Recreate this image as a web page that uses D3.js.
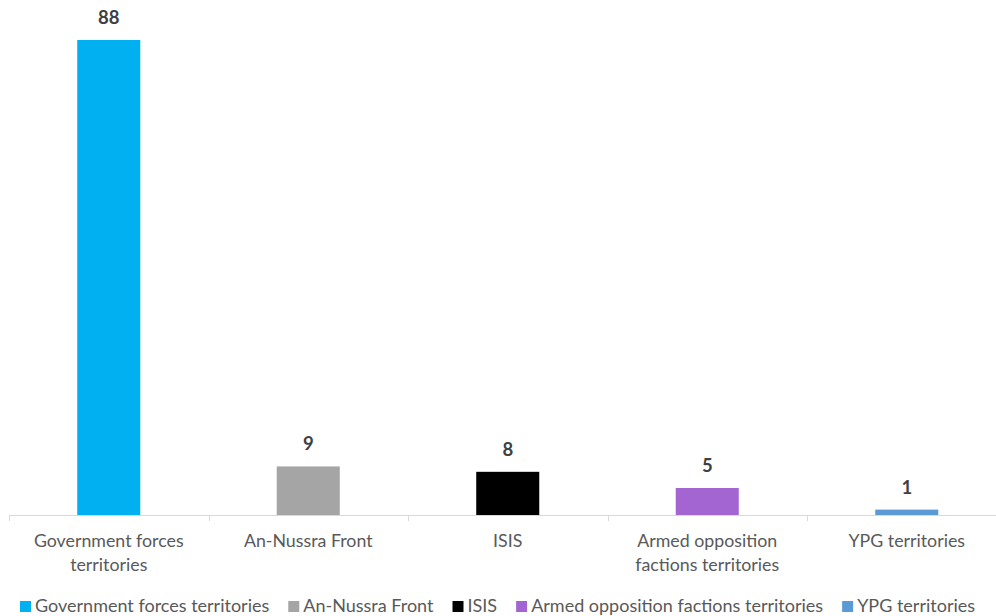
<!DOCTYPE html>
<html>
<head>
<meta charset="utf-8">
<script src="https://d3js.org/d3.v7.min.js"></script>
<style>
  body { margin: 0; background: #fff; }
  svg { display: block; font-family: Lato, "Open Sans", sans-serif; }
</style>
</head>
<body>
<div id="chart"></div>
<script>
// data
const categories = ['Government forces territories', 'An-Nussra Front', 'ISIS', 'Armed opposition factions territories', 'YPG territories'];
const axisLabels = [['Government forces', 'territories'], ['An-Nussra Front'], ['ISIS'], ['Armed opposition', 'factions territories'], ['YPG territories']];
const values = [88, 9, 8, 5, 1];
const colors = ['#00b0f0', '#a5a5a5', '#000000', '#a365d1', '#5b9bd5'];

const width = 996, height = 616;
const baseY = 515;

const svg = d3.select('#chart').append('svg')
    .attr('width', width)
    .attr('height', height);

// scales
const x = d3.scaleBand()
    .domain(categories)
    .range([9, 1006.5])
    .padding(0);

const y = d3.scaleLinear()
    .domain([0, 88])
    .range([baseY, 40]);

const barW = x.bandwidth() * 0.316;

// bars
svg.selectAll('.bar')
    .data(values)
    .enter().append('rect')
    .attr('class', 'bar')
    .attr('x', (d, i) => x(categories[i]) + x.bandwidth() / 2 - barW / 2)
    .attr('y', d => y(d))
    .attr('width', barW)
    .attr('height', d => baseY - y(d))
    .attr('fill', (d, i) => colors[i]);

// value labels
svg.selectAll('.value-label')
    .data(values)
    .enter().append('text')
    .attr('class', 'value-label')
    .attr('x', (d, i) => x(categories[i]) + x.bandwidth() / 2)
    .attr('y', d => y(d) - 16)
    .attr('text-anchor', 'middle')
    .style('font-size', '18.5px')
    .style('font-weight', 'bold')
    .style('fill', '#404040')
    .text(d => d);

// x axis line + ticks
const axis = svg.append('g');
axis.append('line')
    .attr('x1', 9).attr('x2', 1006.5)
    .attr('y1', baseY + 0.5).attr('y2', baseY + 0.5)
    .attr('stroke', '#d9d9d9').attr('stroke-width', 1);
const tickPos = categories.map(c => x(c)).concat([x.range()[1]]);
axis.selectAll('.tick')
    .data(tickPos)
    .enter().append('line')
    .attr('x1', d => Math.round(d) + 0.5).attr('x2', d => Math.round(d) + 0.5)
    .attr('y1', baseY).attr('y2', baseY + 6)
    .attr('stroke', '#d9d9d9');

// category labels
const lab = svg.selectAll('.cat-label')
    .data(axisLabels)
    .enter().append('text')
    .attr('class', 'cat-label')
    .attr('text-anchor', 'middle')
    .style('font-size', '17.8px')
    .style('fill', '#595959');
lab.selectAll('tspan')
    .data((d, i) => d.map(t => ({ t, i })))
    .enter().append('tspan')
    .attr('x', d => x(categories[d.i]) + x.bandwidth() / 2)
    .attr('y', (d, j) => 547 + j * 24)
    .text(d => d.t);

// legend
const legend = svg.append('g');
let lx = 20;
categories.forEach((c, i) => {
    const g = legend.append('g');
    g.append('rect')
        .attr('x', lx).attr('y', 601)
        .attr('width', 11).attr('height', 11)
        .attr('fill', colors[i]);
    const t = g.append('text')
        .attr('x', lx + 15).attr('y', 612)
        .style('font-size', '18px')
        .style('fill', '#595959')
        .text(c);
    lx += 15 + t.node().getComputedTextLength() + 19;
});
</script>
</body>
</html>
